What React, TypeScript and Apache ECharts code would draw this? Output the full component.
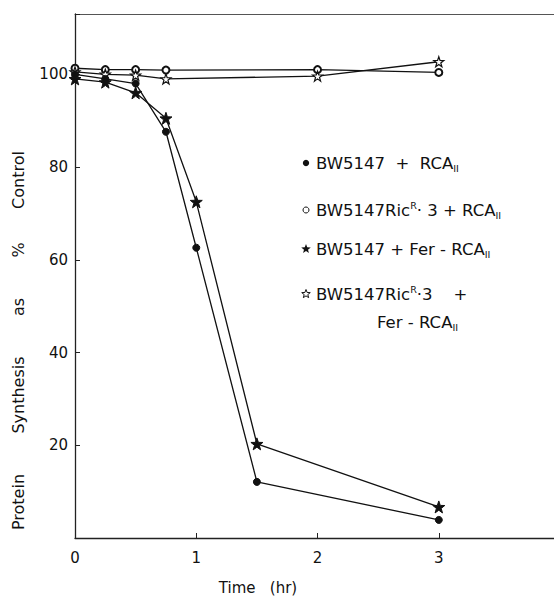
import React, { useEffect, useRef } from "react";
import * as echarts from "echarts";

const timesA = [0, 0.25, 0.5, 0.75, 1, 1.5, 3];
const bwRca = [100, 99, 98, 87.6, 62.6, 12.1, 3.9];
const bwFerRca = [99, 98.3, 96, 90.5, 72.5, 20.3, 6.7];
const timesB = [0, 0.25, 0.5, 0.75, 2, 3];
const ricRca = [101.3, 101, 101, 100.9, 101, 100.4];
const ricFerRca = [100.5, 100, 99.8, 99, 99.6, 102.7];
const xTicks = [0, 1, 2, 3];
const yTicks = [20, 40, 60, 80, 100];
const yTitleWords = ["Protein", "Synthesis", "as", "%", "Control"];

const STAR =
  "path://M0,-10L2.35,-3.24L9.51,-3.09L3.8,1.24L5.88,8.09L0,4L-5.88,8.09L-3.8,1.24L-9.51,-3.09L-2.35,-3.24Z";

const FONT = "DejaVu Sans";
const NB = "\u00A0";

export default function App() {
  const ref = useRef<HTMLDivElement>(null);
  useEffect(() => {
    if (!ref.current) return;
    const chart = echarts.init(ref.current, undefined, { renderer: "svg" });
    const pair = (xs: number[], ys: number[]) => xs.map((x, i) => [x, ys[i]]);
    const lineStyle = { color: "#111", width: 1.3 };
    const rich = {
      n: { fontFamily: FONT, fontSize: 16.5, color: "#111", lineHeight: 20 },
      sub: { fontFamily: FONT, fontSize: 9.5, color: "#111", verticalAlign: "bottom", lineHeight: 20 },
      sup: { fontFamily: FONT, fontSize: 9.5, color: "#111", verticalAlign: "top", lineHeight: 20 },
    };
    const legendText = (x: number, y: number, text: string) => ({
      type: "text",
      x,
      y,
      style: { text, rich, verticalAlign: "middle", align: "left", font: `16px ${FONT}`, fill: "#111" },
    });
    const starPts = (cx: number, cy: number, r: number) => {
      const pts: number[][] = [];
      for (let i = 0; i < 10; i++) {
        const rr = i % 2 === 0 ? r : r * 0.42;
        const a = -Math.PI / 2 + (i * Math.PI) / 5;
        pts.push([cx + rr * Math.cos(a), cy + rr * Math.sin(a)]);
      }
      return pts;
    };
    const sp = NB + NB;
    const yTitleCenters = [502, 395, 307, 250, 180];
    chart.setOption({
      animation: false,
      backgroundColor: "#fff",
      grid: { left: 75, right: 0, top: 14, bottom: 62, containLabel: false },
      xAxis: [
        {
          type: "value",
          min: 0,
          max: 3.95,
          interval: 1,
          axisLine: { show: true, lineStyle: { color: "#222", width: 1.3 } },
          axisTick: { show: true, inside: true, length: 5, lineStyle: { color: "#222" } },
          axisLabel: {
            showMaxLabel: false,
            margin: 12,
            fontFamily: FONT,
            fontSize: 15,
            color: "#111",
            formatter: (v: number) => (xTicks.includes(v) ? String(v) : ""),
          },
          splitLine: { show: false },
        },
        {
          type: "value",
          position: "top",
          min: 0,
          max: 3.95,
          axisLine: { show: true, lineStyle: { color: "#555", width: 1 } },
          axisTick: { show: false },
          axisLabel: { show: false },
          splitLine: { show: false },
        },
      ],
      yAxis: {
        type: "value",
        min: 0,
        max: 113,
        interval: 20,
        axisLine: { show: true, lineStyle: { color: "#222", width: 1.3 } },
        axisTick: { show: true, inside: true, length: 5, lineStyle: { color: "#222" } },
        axisLabel: {
          margin: 7,
          fontFamily: FONT,
          fontSize: 15,
          color: "#111",
          formatter: (v: number) => (yTicks.includes(v) ? String(v) : ""),
        },
        splitLine: { show: false },
      },
      series: [
        {
          type: "line",
          data: pair(timesB, ricRca),
          symbol: "emptyCircle",
          symbolSize: 7,
          lineStyle,
          itemStyle: { color: "#111", borderColor: "#111", borderWidth: 1.2 },
        },
        {
          type: "line",
          data: pair(timesB, ricFerRca),
          symbol: STAR,
          symbolSize: 10,
          lineStyle,
          itemStyle: { color: "#fff", borderColor: "#111", borderWidth: 1.2 },
        },
        {
          type: "line",
          data: pair(timesA, bwRca),
          symbol: "circle",
          symbolSize: 7,
          lineStyle,
          itemStyle: { color: "#111", borderColor: "#111" },
        },
        {
          type: "line",
          data: pair(timesA, bwFerRca),
          symbol: STAR,
          symbolSize: 12,
          lineStyle,
          itemStyle: { color: "#111", borderColor: "#111" },
        },
      ],
      graphic: [
        ...yTitleWords.map((w, i) => ({
          type: "text",
          x: 18,
          y: yTitleCenters[i],
          rotation: Math.PI / 2,
          style: {
            text: w,
            font: `16px ${FONT}`,
            fill: "#111",
            align: "center",
            verticalAlign: "middle",
          },
        })),
        {
          type: "text",
          x: 258,
          y: 588,
          style: {
            text: `Time${sp}${NB}(hr)`,
            font: `15px ${FONT}`,
            fill: "#111",
            align: "center",
            verticalAlign: "middle",
          },
        },
        { type: "circle", shape: { cx: 306, cy: 163, r: 3.2 }, style: { fill: "#111" } },
        { type: "circle", shape: { cx: 306, cy: 210, r: 3 }, style: { fill: "#fff", stroke: "#111", lineWidth: 1 } },
        { type: "polygon", shape: { points: starPts(306, 249, 5) }, style: { fill: "#111" } },
        { type: "polygon", shape: { points: starPts(306, 294, 4.5) }, style: { fill: "#fff", stroke: "#111", lineWidth: 1 } },
        legendText(316, 163, `{n|BW5147${sp}+${sp}RCA}{sub|II}`),
        legendText(316, 210, `{n|BW5147Ric}{sup|R}{n|·${NB}3${NB}+${NB}RCA}{sub|II}`),
        legendText(316, 249, `{n|BW5147${NB}+${NB}Fer${NB}-${NB}RCA}{sub|II}`),
        legendText(316, 294, `{n|BW5147Ric}{sup|R}{n|·3${sp}${sp}+}`),
        legendText(377, 322, `{n|Fer${NB}-${NB}RCA}{sub|II}`),
      ],
    });
    return () => chart.dispose();
  }, []);
  return <div ref={ref} style={{ width: 554, height: 600, position: "absolute", left: 0, top: 0 }} />;
}
